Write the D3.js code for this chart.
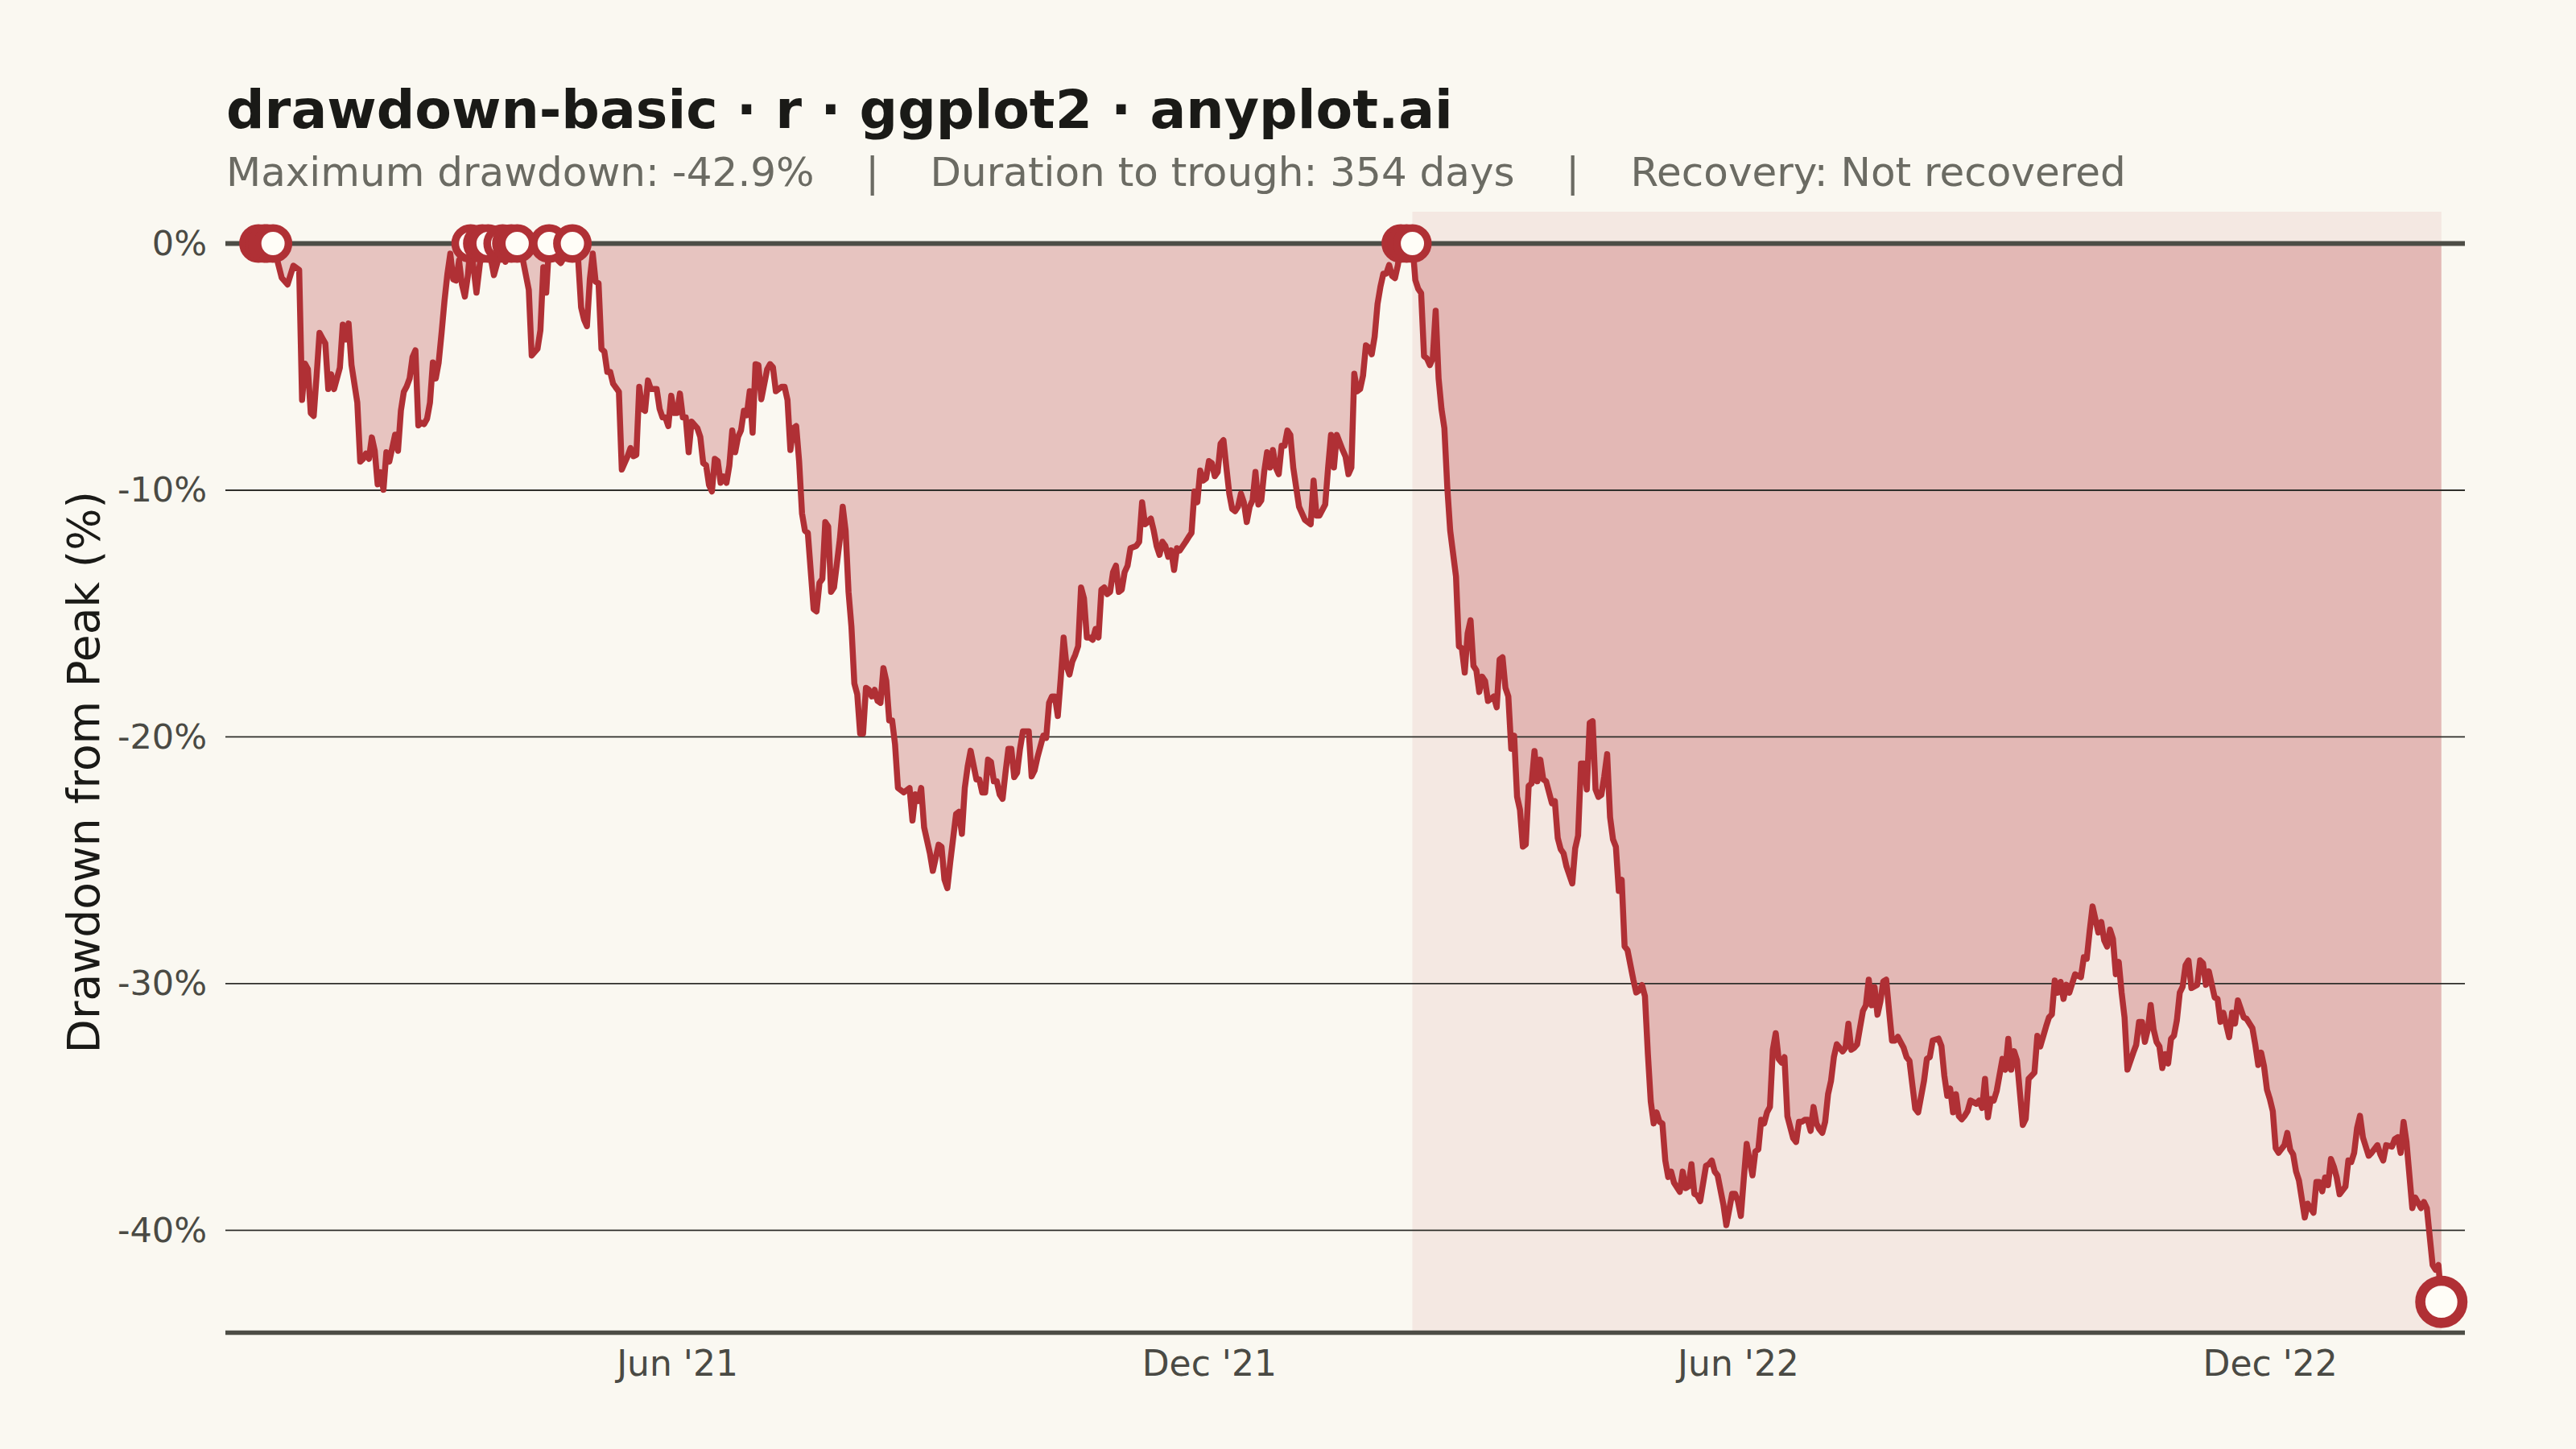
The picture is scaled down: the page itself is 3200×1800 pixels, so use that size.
<!DOCTYPE html>
<html>
<head>
<meta charset="utf-8">
<script src="https://cdn.jsdelivr.net/npm/d3@7"></script>
<style>
  html, body { margin: 0; padding: 0; background: #FAF8F1; }
  svg { display: block; }
</style>
</head>
<body>
<svg id="chart" width="3200" height="1800"></svg>
<script>
// ---------------- DATA ----------------
const startDate = "2021-01-01";          // day 0 of the series
// days since startDate (calendar days)
const days = [
  7,9,10,12,15,17,19,21,22,23,24,25,26,27,28,29,30,31,32,33,35,36,37,38,39,41,42,43,44,45,46,47,48,49,50,51,52,54,55,56,57,58,59,60,61,62,63,64,65,66,67,68,69,70,71,72,73,74,75,76,77,78,79,
  80,82,84,86,88,91,92,94,96,98,100,101,103,104,105,106,107,110,111,115,117,118,119,120,121,122,123,124,125,126,127,128,129,131,132,134,135,136,137,
  138,139,140,141,142,144,145,146,147,148,149,150,151,152,153,154,155,156,158,159,160,161,162,163,164,165,166,167,168,169,170,171,172,173,174,175,176,177,178,179,180,182,183,184,185,187,188,189,190,191,192,193,194,195,196,198,199,200,201,202,203,204,205,207,208,209,210,211,212,213,214,215,216,217,218,219,220,221,222,223,224,225,226,227,228,229,231,232,233,234,235,236,238,239,241,242,243,244,245,247,248,249,250,251,252,254,255,256,257,258,259,260,261,262,263,264,265,266,267,268,269,270,272,
  273,274,275,276,277,278,279,280,281,282,283,284,285,286,287,288,289,290,291,292,293,294,295,296,297,298,299,300,301,302,303,304,305,306,307,309,310,311,312,313,314,315,316,317,318,319,320,321,322,323,324,326,327,328,329,330,331,332,333,334,335,336,337,338,339,340,341,342,343,344,345,346,347,348,349,350,351,352,353,354,355,356,357,358,359,360,361,362,363,364,365,367,368,369,370,371,372,374,375,376,377,378,380,381,382,383,384,385,386,387,388,389,390,391,392,393,394,395,396,397,398,399,400,401,402,403,404,
  405,406,407,408,409,410,411,412,413,414,415,416,417,419,420,421,422,423,424,425,426,427,428,429,430,432,433,434,435,436,437,438,439,440,441,442,443,444,445,446,447,448,449,450,452,453,454,455,456,457,
  459,460,461,462,463,464,465,466,467,468,469,470,471,472,473,474,475,476,477,478,480,481,482,483,484,485,486,487,488,489,490,491,492,493,494,496,497,498,499,500,501,502,503,505,506,507,508,509,511,512,514,515,516,517,518,519,520,521,522,523,524,525,526,527,528,529,530,531,532,533,535,536,537,538,539,540,541,542,543,544,545,546,547,548,549,550,552,553,554,555,556,557,558,559,560,561,562,563,564,565,566,567,568,569,570,571,573,574,575,577,578,580,581,582,583,585,586,587,588,589,590,591,592,593,
  594,595,596,598,599,600,601,602,603,604,605,607,608,609,610,611,612,614,615,616,618,619,620,622,623,624,625,626,627,628,629,630,632,634,635,636,637,638,640,641,642,643,644,645,646,647,648,649,650,652,653,654,655,656,657,658,659,660,661,662,663,664,665,666,667,668,669,670,671,672,674,675,676,677,678,680,681,682,683,685,686,687,688,690,691,693,694,695,696,697,698,699,700,701,702,704,705,706,707,708,709,711,712,714,715,716,717,718,719,720,721,722,723,725,726,727,728,729,730,731,733,734,736,737,738,739,741,742,743,744,745,746,748,749,751,752,753,755,756,757,758
];
// drawdown from running peak, percent
const drawdown = [
  0,0,0,0,-1.39,-1.66,-0.9,-1.07,-6.34,-4.87,-5.09,-6.88,-6.99,-5.36,-3.62,-3.84,-4.05,-5.9,-5.3,-5.9,-5.03,-3.29,-3.89,-3.24,-4.92,-6.45,-8.84,-8.73,-8.51,-8.73,-7.86,-8.4,-9.76,-9.27,-9.98,-8.46,-8.84,-7.75,-8.4,-6.77,-6.01,-5.79,-5.47,-4.6,-4.33,-7.37,-7.26,-7.32,-7.1,-6.45,-4.82,-5.47,-4.82,-3.62,-2.32,-1.23,-0.41,-1.45,-1.5,-0.68,-1.66,-2.15,-1.34,
  0,-1.99,0,0,-1.28,0,-0.74,0,0,-0.68,-1.88,-4.54,-4.27,-3.51,-0.96,-1.99,0,-0.68,-0.79,0,-0.68,-2.59,-3.08,-3.35,-1.45,-0.41,-1.55,-1.61,-4.27,-4.38,-5.2,-5.2,-5.68,-6.01,-9.16,-8.62,-8.29,-8.62,-8.57,
  -5.81,-6.7,-6.78,-5.55,-5.9,-5.9,-6.7,-7.05,-7.05,-7.4,-6.17,-6.87,-6.87,-6.08,-7.05,-7.05,-8.46,-7.22,-7.49,-7.84,-8.9,-8.99,-9.79,-10.05,-8.73,-8.82,-9.7,-9.44,-9.7,-8.99,-7.58,-8.46,-7.84,-7.58,-6.78,-6.96,-5.99,-7.67,-4.89,-4.93,-6.31,-5.1,-4.89,-5.02,-5.99,-5.81,-5.81,-6.34,-8.37,-7.49,-7.4,-8.82,-10.94,-11.64,-11.73,-14.82,-14.91,-13.76,-13.59,-11.29,-11.47,-14.12,-13.94,-12.0,-10.67,-11.64,-14.12,-15.53,-17.83,-18.27,-19.86,-19.86,-18.01,-18.09,-18.36,-18.09,-18.54,-18.62,-17.21,-17.74,-19.33,-19.33,-20.3,-22.07,-22.16,-22.25,-22.07,-23.39,-22.33,-22.6,-22.07,-23.66,-24.72,-25.43,-24.37,-24.46,-25.78,-26.13,-25.07,-23.13,-23.04,-23.93,-22.07,-21.19,-20.56,-21.72,-21.72,-22.25,-22.25,-20.92,-21.01,-21.8,-21.8,-22.33,-22.51,-21.45,-20.48,-20.48,-21.63,-21.45,-20.48,-19.77,-19.77,
  -21.6,-21.36,-20.83,-20.39,-19.95,-20.04,-18.62,-18.36,-18.36,-19.15,-17.65,-15.97,-17.12,-17.47,-16.94,-16.67,-16.32,-13.94,-14.38,-15.97,-15.97,-16.06,-15.62,-15.97,-14.03,-13.94,-14.21,-14.12,-13.32,-13.06,-14.12,-14.03,-13.32,-13.06,-12.35,-12.26,-12.09,-10.49,-11.38,-11.29,-11.15,-11.64,-12.26,-12.62,-12.09,-12.26,-12.7,-12.44,-13.23,-12.35,-12.44,-12.09,-11.9,-11.73,-10.05,-10.49,-9.2,-9.61,-9.52,-8.82,-8.9,-9.43,-9.26,-8.11,-7.97,-9.08,-10.14,-10.76,-10.85,-10.67,-10.14,-10.49,-11.29,-10.67,-10.41,-9.26,-10.58,-10.41,-9.26,-8.46,-9.08,-8.37,-9.08,-9.35,-8.2,-8.2,-7.58,-7.76,-9.08,-9.88,-10.67,-11.2,-11.29,-11.38,-9.61,-11.03,-11.03,-10.58,-9.08,-7.76,-9.08,-7.76,-8.37,-8.64,-9.35,-9.08,-5.28,-5.99,-5.9,-5.36,-4.13,-4.22,-4.49,-3.78,-2.45,-1.75,-1.22,-1.22,-0.87,-1.31,-1.4,-0.87,0,-0.5,0,-0.3,0,
  -1.48,-1.84,-2.01,-4.57,-4.66,-4.93,-4.66,-2.72,-5.46,-6.7,-7.49,-9.88,-11.64,-13.5,-16.33,-16.41,-17.39,-15.8,-15.27,-17.12,-17.3,-18.18,-17.56,-17.74,-18.54,-18.36,-18.8,-16.86,-16.77,-18.01,-18.36,-20.48,-19.95,-22.42,-22.95,-24.45,-24.36,-21.98,-21.89,-20.57,-21.8,-20.92,-21.72,-21.8,-22.69,-22.6,-24.1,-24.55,-24.72,-25.25,
  -25.94,-24.52,-24.0,-21.08,-21.08,-22.13,-19.43,-19.36,-22.13,-22.43,-22.35,-21.6,-20.7,-23.25,-24.15,-24.45,-26.24,-25.79,-28.49,-28.64,-29.84,-30.36,-30.28,-30.06,-30.51,-32.83,-34.78,-35.67,-35.22,-35.6,-35.67,-37.17,-37.84,-37.62,-38.07,-38.44,-37.62,-38.29,-38.22,-37.32,-38.52,-38.59,-38.82,-37.39,-37.32,-37.17,-37.62,-37.77,-38.97,-39.79,-38.52,-38.52,-38.82,-39.42,-37.92,-36.5,-37.17,-37.77,-36.8,-36.72,-35.52,-35.67,-35.22,-35.0,-32.68,-32.01,-33.05,-33.2,-32.98,-35.37,-36.27,-36.42,-35.6,-35.6,-35.52,-35.52,-35.97,-35.0,-35.67,-35.9,-36.05,-35.6,-34.48,-33.95,-32.98,-32.46,-32.75,-32.6,-31.63,-32.68,-32.6,-32.46,-31.78,-31.11,-30.88,-29.84,-30.88,-30.14,-31.26,-30.73,-29.91,-29.84,-31.11,-32.31,-32.31,-32.16,-32.6,-32.98,-33.13,-35.07,-35.22,-33.95,-33.05,-32.98,-32.31,-32.23,-32.53,-33.73,-34.55,-34.25,-35.22,-34.48,-35.37,-35.5,
  -35.36,-35.17,-34.74,-34.87,-34.74,-35.04,-33.86,-35.42,-34.68,-34.74,-34.36,-33.05,-33.49,-32.24,-33.49,-32.74,-33.11,-35.73,-35.48,-33.86,-33.61,-32.12,-32.55,-31.74,-31.37,-31.25,-29.87,-30.37,-29.93,-30.62,-30.05,-30.37,-29.62,-29.74,-28.93,-28.99,-27.87,-26.87,-27.93,-27.5,-28.25,-28.5,-27.81,-28.18,-29.62,-29.12,-30.37,-31.37,-33.49,-32.8,-32.49,-31.55,-31.55,-32.36,-31.86,-30.87,-31.86,-32.36,-32.55,-33.42,-32.86,-33.24,-32.24,-32.11,-31.49,-30.37,-30.12,-29.25,-29.06,-30.18,-30.05,-29.06,-29.18,-30.05,-29.5,-30.56,-30.62,-31.55,-31.18,-32.17,-31.18,-31.62,-30.68,-31.37,-31.43,-31.81,-32.49,-33.3,-32.8,-33.36,-34.3,-34.68,-35.17,-36.67,-36.86,-36.55,-36.05,-36.73,-36.92,-37.61,-37.98,-39.48,-38.92,-39.29,-38.04,-38.04,-38.42,-37.86,-38.17,-37.11,-37.42,-37.86,-38.54,-38.23,-37.17,-37.23,-36.86,-35.86,-35.36,-36.23,-36.98,-36.86,-36.55,-36.92,-37.17,-36.55,-36.61,-36.3,-36.23,-36.86,-35.61,-36.42,-39.1,-38.67,-39.1,-38.85,-39.1,-41.41,-41.6,-41.41,-42.9
];

const yTickValues = [0, -10, -20, -30, -40];
const yTickLabels = ["0%", "-10%", "-20%", "-30%", "-40%"];
const xTickDates  = ["2021-06-01", "2021-12-01", "2022-06-01", "2022-12-01"];
const xTickLabels = ["Jun '21", "Dec '21", "Jun '22", "Dec '22"];
const xDomain = ["2020-12-27T14:53:00Z", "2023-02-06T02:24:00Z"];
const yDomain = [-44.15, 1.29];

const titleText = "drawdown-basic · r · ggplot2 · anyplot.ai";
const subtitleText = "Maximum drawdown: -42.9%    |    Duration to trough: 354 days    |    Recovery: Not recovered";
const yAxisTitle = "Drawdown from Peak (%)";

// ---------------- STYLE ----------------
const W = 3200, H = 1800;
const panel = { left: 280, right: 3062, top: 263, bottom: 1655.5 };
const C = {
  bg: "#FAF8F1",
  line: "#B03035",
  title: "#1A1A17",
  subtitle: "#6B6B63",
  tick: "#4A4A44",
  axis: "#4D4D46",
  grid: "#2F2F2B",
  markerFill: "#FFFDF7"
};
const FONT = "'DejaVu Sans', 'Liberation Sans', sans-serif";

// ---------------- BUILD ----------------
const svg = d3.select("#chart");
svg.append("rect").attr("width", W).attr("height", H).attr("fill", C.bg);

const start = d3.utcParse("%Y-%m-%d")(startDate);
const parseDay = d3.utcParse("%Y-%m-%d");
const data = days.map((d, i) => ({ date: d3.utcDay.offset(start, d), value: drawdown[i] }));

const x = d3.scaleUtc()
  .domain(xDomain.map(s => new Date(s)))
  .range([panel.left, panel.right]);
const y = d3.scaleLinear()
  .domain(yDomain)
  .range([panel.bottom, panel.top]);

// current (unrecovered) drawdown period: from last peak to end
let lastPeakIdx = 0;
data.forEach((d, i) => { if (d.value === 0) lastPeakIdx = i; });
const troughIdx = d3.minIndex(data, d => d.value);

svg.append("rect")
  .attr("x", x(data[lastPeakIdx].date))
  .attr("y", panel.top)
  .attr("width", x(data[data.length - 1].date) - x(data[lastPeakIdx].date))
  .attr("height", panel.bottom - panel.top)
  .attr("fill", C.line)
  .attr("fill-opacity", 0.08);

// area
const area = d3.area()
  .x(d => x(d.date))
  .y0(y(0))
  .y1(d => y(d.value));
svg.append("path")
  .datum(data)
  .attr("d", area)
  .attr("fill", C.line)
  .attr("fill-opacity", 0.26);

// grid lines
svg.append("g")
  .selectAll("line")
  .data(yTickValues.filter(v => v !== 0))
  .join("line")
  .attr("x1", panel.left).attr("x2", panel.right)
  .attr("y1", d => y(d)).attr("y2", d => y(d))
  .attr("stroke", C.grid)
  .attr("stroke-width", 1.8);

// zero line & bottom axis line
svg.append("line")
  .attr("x1", panel.left).attr("x2", panel.right)
  .attr("y1", y(0)).attr("y2", y(0))
  .attr("stroke", C.axis).attr("stroke-width", 6);
svg.append("line")
  .attr("x1", panel.left).attr("x2", panel.right)
  .attr("y1", panel.bottom).attr("y2", panel.bottom)
  .attr("stroke", C.axis).attr("stroke-width", 5.5);

// line
const line = d3.line()
  .x(d => x(d.date))
  .y(d => y(d.value));
svg.append("path")
  .datum(data)
  .attr("d", line)
  .attr("fill", "none")
  .attr("stroke", C.line)
  .attr("stroke-width", 7.5)
  .attr("stroke-linejoin", "round")
  .attr("stroke-linecap", "round");

// peak markers
svg.append("g")
  .selectAll("circle")
  .data(data.filter(d => d.value === 0))
  .join("circle")
  .attr("cx", d => x(d.date))
  .attr("cy", d => y(d.value))
  .attr("r", 19.2)
  .attr("fill", C.markerFill)
  .attr("stroke", C.line)
  .attr("stroke-width", 9.5);

// trough marker
svg.append("circle")
  .attr("cx", x(data[troughIdx].date))
  .attr("cy", y(data[troughIdx].value))
  .attr("r", 26.2)
  .attr("fill", C.markerFill)
  .attr("stroke", C.line)
  .attr("stroke-width", 12.6);

// axes
const yAxis = d3.axisLeft(y)
  .tickValues(yTickValues)
  .tickFormat((d, i) => yTickLabels[i])
  .tickSize(0)
  .tickPadding(23);
const gy = svg.append("g").attr("transform", `translate(${panel.left},0)`).call(yAxis);
gy.select(".domain").remove();
gy.selectAll("text")
  .attr("font-family", FONT)
  .attr("font-size", 43)
  .attr("fill", C.tick);

const xAxis = d3.axisBottom(x)
  .tickValues(xTickDates.map(s => parseDay(s)))
  .tickFormat((d, i) => xTickLabels[i])
  .tickSize(0)
  .tickPadding(22);
const gx = svg.append("g").attr("transform", `translate(0,${panel.bottom})`).call(xAxis);
gx.select(".domain").remove();
gx.selectAll("text")
  .attr("font-family", FONT)
  .attr("font-size", 44)
  .attr("fill", C.tick);

// y axis title
svg.append("text")
  .attr("transform", `translate(122.7,${(panel.top + panel.bottom) / 2}) rotate(-90)`)
  .attr("text-anchor", "middle")
  .attr("font-family", FONT)
  .attr("font-size", 55)
  .attr("fill", C.title)
  .text(yAxisTitle);

// title & subtitle
svg.append("text")
  .attr("x", 281).attr("y", 159)
  .attr("font-family", FONT)
  .attr("font-size", 66.5)
  .attr("font-weight", "bold")
  .attr("fill", C.title)
  .text(titleText);
svg.append("text")
  .attr("x", 281).attr("y", 231)
  .attr("font-family", FONT)
  .attr("font-size", 50)
  .attr("fill", C.subtitle)
  .style("white-space", "pre")
  .attr("xml:space", "preserve")
  .text(subtitleText);
</script>
</body>
</html>
